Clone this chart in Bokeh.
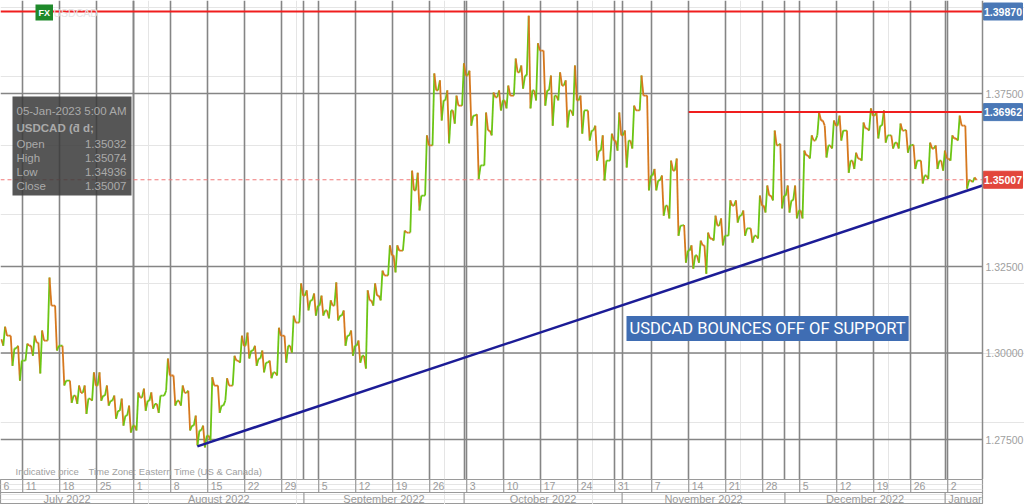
import pandas as pd
from bokeh.plotting import figure
from bokeh.models import (Range1d, FixedTicker, Grid, Span, Label, BoxAnnotation,
                          ColumnDataSource)
from bokeh.layouts import column
from bokeh.embed import file_html
from bokeh.resources import INLINE
from bokeh.core.properties import value

# ---------------- data ----------------
symbol = "USDCAD"
first_day = "2022-07-06"
last_day = "2023-01-05"
first_open = 1.3040

closes = [1.3050, 1.3013, 1.2978, 1.3021, 1.3030, 1.3036, 1.3137, 1.3021, 1.2920, 1.2877,
          1.2885, 1.2868, 1.2906, 1.2877, 1.2862, 1.2833, 1.2819, 1.2790, 1.2871, 1.2862,
          1.2853, 1.2877, 1.2935, 1.2862, 1.2885, 1.2790, 1.2776, 1.2761, 1.2906, 1.2848,
          1.2906, 1.2978, 1.3021, 1.3007, 1.2984, 1.2972, 1.2944, 1.3050, 1.3021, 1.3088,
          1.3166, 1.3152, 1.3137, 1.3123, 1.3137, 1.3108, 1.3050, 1.3021, 1.2992, 1.3152,
          1.3166, 1.3224, 1.3282, 1.3296, 1.3348, 1.3470, 1.3455, 1.3600, 1.3759, 1.3730,
          1.3701, 1.3715, 1.3802, 1.3686, 1.3542, 1.3643, 1.3739, 1.3730, 1.3744, 1.3811,
          1.3802, 1.3759, 1.3874, 1.3759, 1.3744, 1.3773, 1.3701, 1.3730, 1.3701, 1.3643,
          1.3585, 1.3556, 1.3614, 1.3629, 1.3614, 1.3701, 1.3744, 1.3513, 1.3499, 1.3426,
          1.3527, 1.3368, 1.3296, 1.3282, 1.3311, 1.3331, 1.3368, 1.3339, 1.3426, 1.3397,
          1.3360, 1.3339, 1.3426, 1.3455, 1.3600, 1.3455, 1.3441, 1.3412, 1.3571, 1.3614,
          1.3672, 1.3600, 1.3657, 1.3643, 1.3556, 1.3562, 1.3649, 1.3686, 1.3657, 1.3629,
          1.3608, 1.3643, 1.3600, 1.3556, 1.3513, 1.3591, 1.3556, 1.3562, 1.3620, 1.3657,
          1.3499, 1.35007]

highs = [1.3076, 1.3050, 1.3021, 1.3027, 1.3050, 1.3065, 1.3218, 1.3137, 1.3021, 1.2920,
         1.2906, 1.2906, 1.2944, 1.2944, 1.2906, 1.2877, 1.2868, 1.2848, 1.2886, 1.2897,
         1.2886, 1.2877, 1.2984, 1.2935, 1.2906, 1.2891, 1.2819, 1.2790, 1.2930, 1.2906,
         1.2927, 1.2992, 1.3050, 1.3059, 1.3021, 1.3007, 1.2978, 1.3073, 1.3050, 1.3108,
         1.3201, 1.3181, 1.3172, 1.3166, 1.3152, 1.3204, 1.3123, 1.3065, 1.3036, 1.3181,
         1.3201, 1.3238, 1.3311, 1.3311, 1.3354, 1.3527, 1.3521, 1.3629, 1.3808, 1.3788,
         1.3759, 1.3744, 1.3837, 1.3816, 1.3690, 1.3695, 1.3753, 1.3759, 1.3773, 1.3851,
         1.3831, 1.3975, 1.3895, 1.3874, 1.3802, 1.3811, 1.3788, 1.3831, 1.3744, 1.3701,
         1.3657, 1.3629, 1.3634, 1.3695, 1.3643, 1.3715, 1.3802, 1.3744, 1.3532, 1.3513,
         1.3556, 1.3562, 1.3370, 1.3311, 1.3325, 1.3348, 1.3397, 1.3389, 1.3441, 1.3441,
         1.3412, 1.3360, 1.3455, 1.3484, 1.3643, 1.3605, 1.3484, 1.3484, 1.3585, 1.3629,
         1.3695, 1.3657, 1.3672, 1.3686, 1.3643, 1.3579, 1.3666, 1.3707, 1.3695, 1.3701,
         1.3629, 1.3663, 1.3645, 1.3602, 1.3556, 1.3608, 1.3600, 1.3585, 1.3629, 1.3686,
         1.3657, 1.35074]

lows = [1.3021, 1.2963, 1.2920, 1.2978, 1.2992, 1.2941, 1.3036, 1.3007, 1.2906, 1.2856,
        1.2853, 1.2824, 1.2862, 1.2862, 1.2848, 1.2810, 1.2790, 1.2770, 1.2776, 1.2833,
        1.2839, 1.2827, 1.2891, 1.2848, 1.2848, 1.2776, 1.2733, 1.2727, 1.2747, 1.2827,
        1.2862, 1.2906, 1.2972, 1.2984, 1.2963, 1.2944, 1.2927, 1.2935, 1.2972, 1.3001,
        1.3088, 1.3123, 1.3108, 1.3108, 1.3100, 1.3094, 1.3021, 1.2992, 1.2972, 1.2955,
        1.3137, 1.3152, 1.3224, 1.3233, 1.3296, 1.3348, 1.3412, 1.3455, 1.3600, 1.3672,
        1.3606, 1.3663, 1.3715, 1.3657, 1.3503, 1.3542, 1.3629, 1.3701, 1.3707, 1.3744,
        1.3764, 1.3707, 1.3730, 1.3715, 1.3657, 1.3730, 1.3652, 1.3686, 1.3634, 1.3614,
        1.3556, 1.3499, 1.3556, 1.3585, 1.3536, 1.3591, 1.3701, 1.3470, 1.3470, 1.3397,
        1.3389, 1.3339, 1.3261, 1.3244, 1.3261, 1.3229, 1.3325, 1.3311, 1.3339, 1.3377,
        1.3339, 1.3319, 1.3331, 1.3406, 1.3441, 1.3418, 1.3406, 1.3389, 1.3389, 1.3562,
        1.3629, 1.3565, 1.3591, 1.3614, 1.3521, 1.3532, 1.3556, 1.3643, 1.3620, 1.3608,
        1.3591, 1.3591, 1.3579, 1.3532, 1.3490, 1.3503, 1.3532, 1.3527, 1.3556, 1.3614,
        1.3475, 1.34936]

day_labels = ["6", "11", "18", "25", "1", "8", "15", "22", "29", "5", "12", "19", "26",
              "3", "10", "17", "24", "31", "7", "14", "21", "28", "5", "12", "19", "26", "2"]
month_labels = ["July 2022", "August 2022", "September 2022", "October 2022",
                "November 2022", "December 2022", "January 2023"]

price_ticks = [1.275, 1.300, 1.325, 1.350, 1.375]
price_tick_labels = ["1.27500", "1.30000", "1.32500", "1.35000", "1.37500"]

resistance_levels = [1.39870, 1.36962]
resistance_start_days = ["2022-07-06", "2022-11-14"]

support_days = [26.6, 132.7]          # trading-day index
support_prices = [1.2730, 1.3484]

quote_time = "05-Jan-2023 5:00 AM"
quote_title = "USDCAD (ƌ d;"
quote_names = ["Open", "High", "Low", "Close"]
quote_values = [1.35032, 1.35074, 1.34936, 1.35007]

annotation_text = "USDCAD BOUNCES OFF OF SUPPORT"
caption_texts = ["Indicative price", "Time Zone: Eastern Time (US & Canada)"]

# ---------------- derived ----------------
dates = pd.bdate_range(first_day, last_day)
idx_of = {d.strftime("%Y-%m-%d"): i for i, d in enumerate(dates)}
opens = [first_open] + closes[:-1]
GREEN, ORANGE = "#6cc514", "#d6781e"

# intraday path of every bar: open -> extreme -> other extreme -> close
px, py = [], []
for i, (o, h, l, c) in enumerate(zip(opens, highs, lows, closes)):
    seq = [o, l, h, c] if c >= o else [o, h, l, c]
    for f, v in zip([0.12, 0.38, 0.62, 0.88], seq):
        px.append(i + f)
        py.append(v)
seg_col, last = [], GREEN
for a, b in zip(py[:-1], py[1:]):
    if b > a:
        last = GREEN
    elif b < a:
        last = ORANGE
    seg_col.append(last)
path_src = ColumnDataSource(dict(x0=px[:-1], y0=py[:-1], x1=px[1:], y1=py[1:], color=seg_col))

week_pos = [i for i, d in enumerate(dates) if d.weekday() == 0]
day_label_pos = [0] + week_pos
month_pos = []
for i, d in enumerate(dates):
    if i > 0 and d.month != dates[i - 1].month:
        first_cal = d.replace(day=1)
        month_pos.append(i - 0.35 if first_cal.weekday() >= 5 else i)

# ---------------- layout helpers (pixel -> data) ----------------
FRAME_W, AXIS_W, FRAME_H, STRIP_H = 982, 42, 479, 25
X_END = 132.7                                  # right edge of the price area
DAY_PX = FRAME_W / X_END
X_FULL = (FRAME_W + AXIS_W) / DAY_PX
Y_TOP, Y_BOT = 1.40188, 1.26344
def rx(px_):
    return px_ / DAY_PX
def ry(py_):
    return Y_TOP - py_ / FRAME_H * (Y_TOP - Y_BOT)

FONT = "Liberation Sans"
GRID = "#858585"
AXC = "#8a8a8a"

p = figure(frame_width=FRAME_W + AXIS_W, frame_height=FRAME_H,
           x_range=Range1d(0, X_FULL), y_range=Range1d(Y_BOT, Y_TOP),
           x_axis_location=None, y_axis_location=None,
           toolbar_location=None, output_backend="svg", min_border=0)
p.outline_line_color = None

# grid
p.add_layout(Grid(dimension=0, ticker=FixedTicker(ticks=week_pos),
                  grid_line_color=GRID, grid_line_width=1.6))
p.add_layout(Grid(dimension=0, ticker=FixedTicker(ticks=month_pos),
                  grid_line_color=GRID, grid_line_width=1.6))
hgrid = [t for t in price_ticks if abs(t - quote_values[3]) > 0.001]
p.segment(x0=[0] * len(hgrid), y0=hgrid, x1=[X_END] * len(hgrid), y1=hgrid,
          line_color=GRID, line_width=1.6)

# current price dashed line
p.segment(x0=[0], y0=[quote_values[3]], x1=[X_END], y1=[quote_values[3]],
          line_color="#f07a7a", line_dash="4 3", line_width=1)

# price bars
p.segment(x0="x0", y0="y0", x1="x1", y1="y1", line_color="color", line_width=1.8,
          source=path_src)

# resistance lines
p.segment(x0=[idx_of[d] for d in resistance_start_days], y0=resistance_levels,
          x1=[X_END] * len(resistance_levels), y1=resistance_levels,
          line_color="#f01e1e", line_width=2)

# support trend line
p.line(support_days, support_prices, line_color="#1c1c96", line_width=2.5)

# price scale on the right
p.add_layout(Span(location=X_END, dimension="height", line_color=AXC, line_width=1.5))
p.text(x=[X_END] * len(price_ticks), y=price_ticks, text=price_tick_labels, x_offset=3,
       text_align="left", text_baseline="middle", text_color="#a0a0a0",
       text_font=value(FONT), text_font_size="10.5px")

flag_levels = resistance_levels + [quote_values[3]]
flag_colors = ["#4a78b6", "#4a78b6", "#e2463c"]
p.rect(x=[X_END + rx(20.5)] * 3, y=flag_levels, width=39, height=17,
       width_units="screen", height_units="screen",
       fill_color=flag_colors, line_color=flag_colors)
p.text(x=[X_END + rx(20.5)] * 3, y=flag_levels, text=[f"{v:.5f}" for v in flag_levels],
       text_align="center", text_baseline="middle", text_color="white",
       text_font=value(FONT), text_font_size="10.5px", text_font_style="bold")

# annotation box
p.add_layout(Label(x=rx(626), y=ry(328), text=annotation_text, text_align="left",
                   text_baseline="middle", text_color="white", text_font="Roboto",
                   text_font_size="16.5px", background_fill_color="#3f6db3",
                   background_fill_alpha=1.0, padding=3))

# quote info box
p.add_layout(BoxAnnotation(left=rx(12), right=rx(131), top=ry(96), bottom=ry(195),
                           fill_color="#3a3a3a", fill_alpha=0.86, line_color=None))
INFO = "#aaaaaa"
p.add_layout(Label(x=rx(16), y=ry(110), text=quote_time, text_baseline="middle",
                   text_color=INFO, text_font=FONT, text_font_size="11.5px"))
p.add_layout(Label(x=rx(16), y=ry(127), text=quote_title, text_baseline="middle",
                   text_color=INFO, text_font=FONT, text_font_size="11.5px",
                   text_font_style="bold"))
for k, (nm, v) in enumerate(zip(quote_names, quote_values)):
    yy = ry(143 + 14 * k)
    p.add_layout(Label(x=rx(16), y=yy, text=nm, text_baseline="middle",
                       text_color=INFO, text_font=FONT, text_font_size="11.5px"))
    p.add_layout(Label(x=rx(126), y=yy, text=f"{v:.5f}", text_baseline="middle",
                       text_align="right", text_color=INFO, text_font=FONT,
                       text_font_size="11.5px"))

# top-left logo & watermark
p.add_layout(Label(x=rx(35), y=ry(12), text="FX", text_baseline="middle",
                   text_color="white", text_font=FONT, text_font_size="9px",
                   text_font_style="bold", background_fill_color="#1f8a2b",
                   background_fill_alpha=1.0, padding=3))
p.add_layout(Label(x=rx(53), y=ry(12), text=symbol, text_baseline="middle",
                   text_color="#e4e4e4", text_font=FONT, text_font_size="10.5px"))

# bottom caption
p.add_layout(Label(x=rx(15), y=ry(471), text=caption_texts[0], text_baseline="middle",
                   text_color="#a0a0a0", text_font=FONT, text_font_size="9.5px"))
p.add_layout(Label(x=rx(88), y=ry(471), text=caption_texts[1],
                   text_baseline="middle", text_color="#a0a0a0", text_font=FONT,
                   text_font_size="9.5px"))

# ---------------- date strip ----------------
p2 = figure(frame_width=FRAME_W, frame_height=STRIP_H, x_range=Range1d(0, X_END),
            y_range=Range1d(0, STRIP_H), x_axis_location=None, y_axis_location=None,
            toolbar_location=None, output_backend="svg", min_border=0,
            min_border_right=AXIS_W)
p2.outline_line_color = "#9a9a9a"
p2.outline_line_width = 1.2
p2.add_layout(Span(location=12, dimension="width", line_color="#9a9a9a", line_width=1.2))
p2.segment(x0=week_pos, y0=[12] * len(week_pos), x1=week_pos, y1=[25] * len(week_pos),
           line_color="#9a9a9a", line_width=1.2)
p2.segment(x0=month_pos, y0=[0] * len(month_pos), x1=month_pos, y1=[12] * len(month_pos),
           line_color="#9a9a9a", line_width=1.2)
p2.text(x=day_label_pos, y=[18.5] * len(day_label_pos), text=day_labels, x_offset=3,
        text_align="left", text_baseline="middle", text_color="#9a9a9a",
        text_font=value(FONT), text_font_size="10.5px")
bounds = [0] + month_pos + [X_END]
month_centers = [(a + b) / 2 for a, b in zip(bounds[:-2], bounds[1:-1])]
p2.text(x=month_centers, y=[6] * len(month_centers), text=month_labels[:-1],
        text_align="center", text_baseline="middle", text_color="#9a9a9a",
        text_font=value(FONT), text_font_size="11px")
p2.text(x=[month_pos[-1]], y=[6], text=[month_labels[-1]], x_offset=3,
        text_align="left", text_baseline="middle", text_color="#9a9a9a",
        text_font=value(FONT), text_font_size="11px")

layout = column(p, p2)
open("out.html", "w").write(file_html(layout, INLINE))
